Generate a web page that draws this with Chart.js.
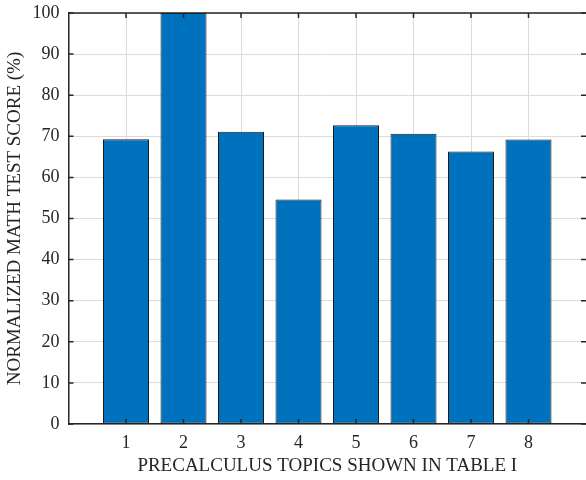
<!DOCTYPE html>
<html>
<head>
<meta charset="utf-8">
<script src="https://cdn.jsdelivr.net/npm/chart.js@4/dist/chart.umd.min.js"></script>
<style>
  html, body { margin: 0; padding: 0; background: #fff; overflow: hidden; }
  #wrap { width: 586px; height: 480px; position: relative; }
</style>
</head>
<body>
<div id="wrap"><canvas id="c" width="586" height="480"></canvas></div>
<script>
const topics = [1, 2, 3, 4, 5, 6, 7, 8];
const scores = [69.3, 100, 71.1, 54.6, 72.7, 70.6, 66.3, 69.2];
const yTicks = [0, 10, 20, 30, 40, 50, 60, 70, 80, 90, 100];
const xLabel = 'PRECALCULUS TOPICS SHOWN IN TABLE I';
const yLabel = 'NORMALIZED MATH TEST SCORE (%)';

const AXIS = '#262626';
const GRID = '#dcdcdc';
const FONT = 'Liberation Serif, Times New Roman, serif';

const boxTicks = {
  id: 'boxTicks',
  afterDraw(chart) {
    const {ctx, chartArea: a, scales: {x, y}} = chart;
    ctx.save();
    ctx.strokeStyle = AXIS;
    ctx.lineWidth = 1.5;
    ctx.beginPath();
    ctx.moveTo(a.left, a.top);
    ctx.lineTo(a.right, a.top);
    ctx.stroke();
    const L = 5;
    ctx.beginPath();
    y.ticks.forEach(t => {
      const py = y.getPixelForValue(t.value);
      ctx.moveTo(a.left, py); ctx.lineTo(a.left + L, py);
      ctx.moveTo(a.right, py); ctx.lineTo(a.right - L, py);
    });
    topics.forEach(v => {
      const px = x.getPixelForValue(v);
      ctx.moveTo(px, a.bottom); ctx.lineTo(px, a.bottom - L);
      ctx.moveTo(px, a.top); ctx.lineTo(px, a.top + L);
    });
    ctx.stroke();
    ctx.restore();
  }
};

new Chart(document.getElementById('c'), {
  type: 'bar',
  data: {
    datasets: [{
      data: topics.map((t, i) => ({x: t, y: scores[i]})),
      backgroundColor: '#0072BD',
      borderColor: '#1a1a1a',
      borderWidth: 1,
      borderSkipped: false,
      barPercentage: 0.8,
      categoryPercentage: 1.0
    }]
  },
  options: {
    responsive: false,
    animation: false,
    devicePixelRatio: 1,
    layout: { padding: { top: 13, right: 0, left: 0, bottom: 0 } },
    plugins: { legend: { display: false }, tooltip: { enabled: false } },
    scales: {
      x: {
        type: 'linear',
        min: 0, max: 9,
        offset: false,
        afterBuildTicks(scale) {
          scale.ticks = topics.map(v => ({value: v}));
        },
        afterFit(scale) {
          scale.height = 56;
          scale.paddingLeft = 0; scale.paddingRight = 0;
        },
        ticks: {
          color: AXIS,
          font: { family: FONT, size: 18 },
          padding: 8,
          maxRotation: 0,
          autoSkip: false,
          callback: v => String(v)
        },
        grid: {
          color: GRID, lineWidth: 1, drawTicks: false, offset: false
        },
        border: { color: AXIS, width: 1.5 },
        title: {
          display: true, text: xLabel, color: AXIS,
          font: { family: FONT, size: 19 },
          padding: { top: 0, bottom: 2.6 }
        }
      },
      y: {
        min: 0, max: 100,
        afterBuildTicks(scale) {
          scale.ticks = yTicks.map(v => ({value: v}));
        },
        afterFit(scale) {
          scale.width = 68.5;
          scale.paddingTop = 0; scale.paddingBottom = 0;
        },
        ticks: {
          color: AXIS,
          font: { family: FONT, size: 18 },
          padding: 9
        },
        grid: { color: GRID, lineWidth: 1, drawTicks: false },
        border: { color: AXIS, width: 1.5 },
        title: {
          display: true, text: yLabel, color: AXIS,
          font: { family: FONT, size: 19 },
          padding: { top: 3.6, bottom: 0 }
        }
      }
    }
  },
  plugins: [boxTicks]
});
</script>
</body>
</html>
